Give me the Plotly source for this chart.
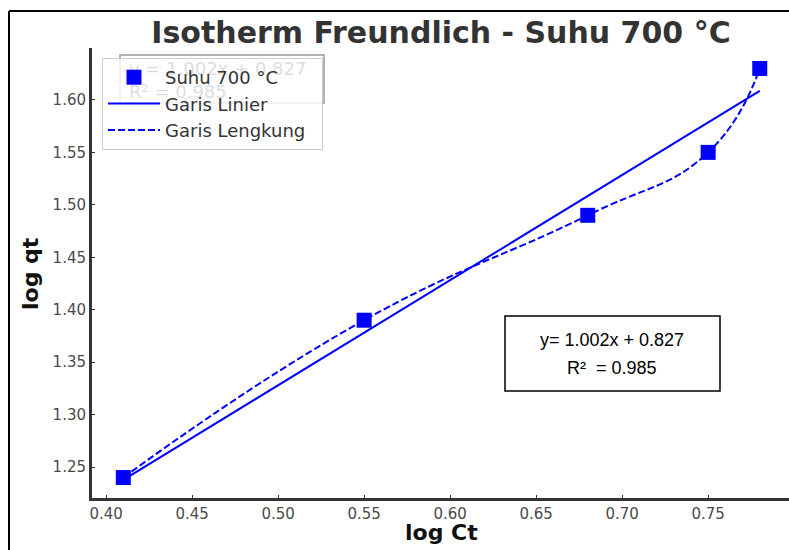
import plotly.graph_objects as go

# Measured points: log Ct vs log qt at 700 °C
log_ct = [0.41, 0.55, 0.68, 0.75, 0.78]
log_qt = [1.24, 1.39, 1.49, 1.55, 1.63]

# Linear Freundlich fit, as printed on the chart
slope = 1.002
intercept = 0.827
r_squared = 0.985
fit_x = [0.41, 0.78]
fit_y = [slope * x + intercept for x in fit_x]

x_ticks = [0.40, 0.45, 0.50, 0.55, 0.60, 0.65, 0.70, 0.75]
y_ticks = [1.25, 1.30, 1.35, 1.40, 1.45, 1.50, 1.55, 1.60]

W, H = 789, 550
L, R, T, B = 92, 0, 48, 52
PW, PH = W - L - R, H - T - B


def px(x):
    return (x - L) / PW


def py(y):
    return (H - B - y) / PH


BLUE = "#0000ff"
INK = "#333333"
eq_text = f"y = {slope:.3f}x + {intercept:.3f}"
r2_text = f"R² = {r_squared:.3f}"

fig = go.Figure()

fig.add_trace(go.Scatter(
    x=fit_x, y=fit_y, mode="lines", name="Garis Linier",
    line=dict(color=BLUE, width=2), legendrank=2,
))
fig.add_trace(go.Scatter(
    x=log_ct, y=log_qt, mode="lines", name="Garis Lengkung\u00a0\u00a0",
    line=dict(color=BLUE, width=2, dash="7px,3px", shape="spline", smoothing=1.3),
    legendrank=3,
))
fig.add_trace(go.Scatter(
    x=log_ct, y=log_qt, mode="markers", name="Suhu 700 °C",
    marker=dict(symbol="square", size=15, color=BLUE), legendrank=1,
))

shapes = [
    # outer frame (left and top edges)
    dict(type="line", xref="paper", yref="paper", x0=px(9), x1=px(9), y0=py(560), y1=py(11),
         line=dict(color="black", width=2)),
    dict(type="line", xref="paper", yref="paper", x0=px(9), x1=px(800), y0=py(11), y1=py(11),
         line=dict(color="black", width=2)),
    # equation box in the upper left, partly hidden by the legend
    dict(type="rect", xref="paper", yref="paper", x0=px(120), x1=px(324), y0=py(103), y1=py(55),
         line=dict(color="#9a9a9a", width=1.5), layer="above",
         label=dict(text=f"{eq_text}<br>{r2_text}", textposition="middle left", padding=6,
                    font=dict(family="DejaVu Sans", size=18, color="#444444"))),
    # equation box at lower right
    dict(type="rect", xref="paper", yref="paper", x0=px(505), x1=px(720), y0=py(391), y1=py(316),
         line=dict(color="black", width=1.5), fillcolor="white", layer="above"),
]

annotations = [
    dict(text="log Ct", xref="paper", yref="paper", x=px(441), y=py(532),
         xanchor="center", yanchor="middle", showarrow=False,
         font=dict(family="DejaVu Sans", size=22, color="#111111", weight="bold")),
    dict(text="log qt", xref="paper", yref="paper", x=px(30), y=py(273), textangle=-90,
         xanchor="center", yanchor="middle", showarrow=False,
         font=dict(family="DejaVu Sans", size=22, color="#111111", weight="bold")),
    dict(text=f"y= {slope:.3f}x + {intercept:.3f}", xref="paper", yref="paper", x=px(612), y=py(340),
         xanchor="center", yanchor="middle", showarrow=False,
         font=dict(family="Liberation Sans", size=18, color="black")),
    dict(text=f"R²  = {r_squared:.3f}", xref="paper", yref="paper", x=px(612), y=py(368),
         xanchor="center", yanchor="middle", showarrow=False,
         font=dict(family="Liberation Sans", size=18, color="black")),
]

axis_common = dict(
    showgrid=False, zeroline=False, showline=True, linecolor=INK, linewidth=3,
    ticks="inside", ticklen=3, tickwidth=1, tickcolor=INK, mirror=False,
    tickfont=dict(family="DejaVu Sans", size=15, color="#4a4a4a"),
)

fig.update_layout(
    width=W, height=H,
    margin=dict(l=L, r=R, t=T, b=B),
    paper_bgcolor="white", plot_bgcolor="white",
    title=dict(text="Isotherm Freundlich - Suhu 700 °C", x=441 / W, y=1 - 32 / H,
               xref="container", yref="container", xanchor="center", yanchor="middle",
               font=dict(family="DejaVu Sans", size=30, color=INK, weight="bold")),
    xaxis=dict(range=[0.3918, 0.797], tickvals=x_ticks, tickformat=".2f", **axis_common),
    yaxis=dict(range=[1.2205, 1.6495], tickvals=y_ticks, tickformat=".2f", **axis_common),
    legend=dict(x=px(102), y=py(58), xanchor="left", yanchor="top",
                bgcolor="rgba(255,255,255,0.82)", bordercolor="#cccccc", borderwidth=1,
                font=dict(family="DejaVu Sans", size=18, color="#333333"),
                itemwidth=52, tracegroupgap=0),
    shapes=shapes,
    annotations=annotations,
    showlegend=True,
)

fig.write_html("out.html")
